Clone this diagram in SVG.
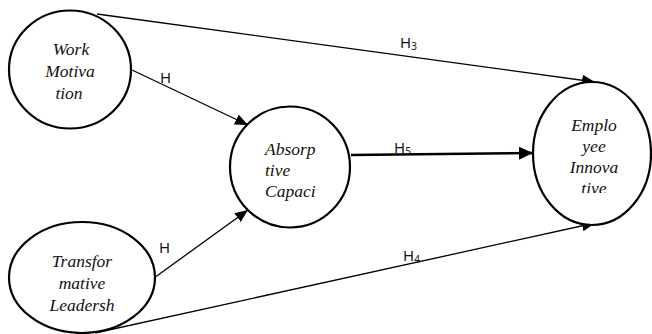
<svg xmlns="http://www.w3.org/2000/svg" width="652" height="334" viewBox="0 0 652 334">
<style>
.node{fill:#fff;stroke:#000;stroke-width:2.2}
.lbl{font-family:"Liberation Serif","Times New Roman",serif;font-style:italic;font-size:17.5px;fill:#111}
.c{text-anchor:middle}
.edge{stroke:#000;stroke-width:1.3;fill:none;marker-end:url(#ah)}
.thick{stroke-width:2.4;marker-end:url(#ah2)}
.h{font-family:"Noto Sans","DejaVu Sans",sans-serif;font-size:15px;fill:#111}
.sub{font-size:10px}
</style>
<defs>
<marker id="ah" markerUnits="userSpaceOnUse" markerWidth="14" markerHeight="12" refX="13" refY="5.5" orient="auto">
<path d="M0,0 L13,5.5 L0,11 z" fill="#000"/>
</marker>
<marker id="ah2" markerUnits="userSpaceOnUse" markerWidth="15" markerHeight="14" refX="14" refY="6.5" orient="auto">
<path d="M0,0 L14,6.5 L0,13 z" fill="#000"/>
</marker>
<clipPath id="clipE"><rect x="530" y="80" width="130" height="113"/></clipPath>
</defs>
<g id="connectors">
<line class="edge" x1="97" y1="14" x2="595" y2="82"/>
<line class="edge" x1="132" y1="70" x2="248" y2="125"/>
<line class="edge" x1="154" y1="278" x2="248" y2="210"/>
<line class="edge" x1="95" y1="333" x2="595" y2="223"/>
<line class="edge thick" x1="351" y1="155" x2="533" y2="153"/>
<text class="h" x="400" y="48">H<tspan class="sub" dy="2">3</tspan></text>
<text class="h" x="160" y="83">H</text>
<text class="h" x="159" y="253">H</text>
<text class="h" x="403" y="261">H<tspan class="sub" dy="2">4</tspan></text>
<text class="h" x="394" y="153">H<tspan class="sub" dy="2">5</tspan></text>
</g>
<g id="work-motivation">
<ellipse class="node" cx="70" cy="69.5" rx="61" ry="59"/>
<text class="lbl c" x="71" y="55">Work</text>
<text class="lbl c" x="70" y="77">Motiva</text>
<text class="lbl c" x="69" y="99">tion</text>
</g>
<g id="transformative-leadership">
<ellipse class="node" cx="82" cy="277.5" rx="73" ry="55.5"/>
<text class="lbl c" x="82" y="267">Transfor</text>
<text class="lbl c" x="82" y="289">mative</text>
<text class="lbl c" x="82" y="311">Leadersh</text>
</g>
<g id="absorptive-capacity">
<ellipse class="node" cx="290" cy="167" rx="60" ry="60.5"/>
<text class="lbl" x="265" y="155">Absorp</text>
<text class="lbl" x="265" y="176">tive</text>
<text class="lbl" x="265" y="197">Capaci</text>
</g>
<g id="employee-innovative">
<ellipse class="node" cx="592" cy="153.5" rx="59" ry="71.5"/>
<g clip-path="url(#clipE)">
<text class="lbl c" x="594" y="131">Emplo</text>
<text class="lbl c" x="594" y="152">yee</text>
<text class="lbl c" x="594" y="173">Innova</text>
<text class="lbl c" x="594" y="194">tive</text>
</g>
</g>
</svg>
